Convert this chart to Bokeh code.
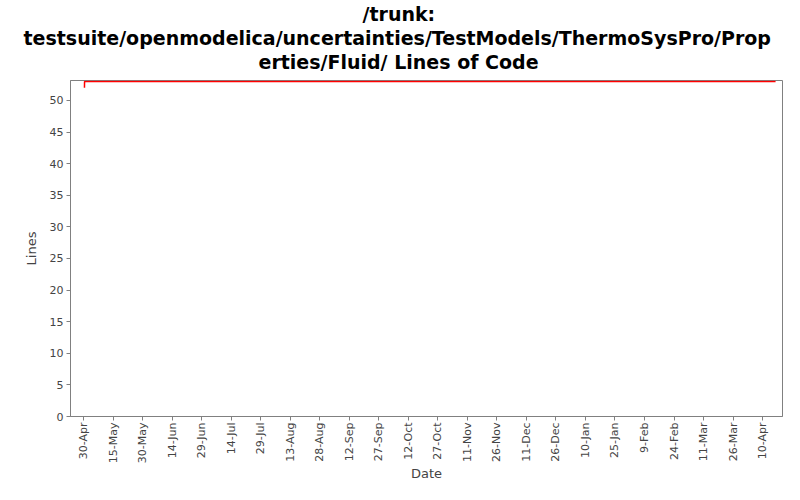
import math
from datetime import datetime, timedelta
from bokeh.plotting import figure
from bokeh.models import FixedTicker, Range1d, Title
from bokeh.embed import file_html
from bokeh.resources import INLINE

# ---- data ----
dates = ["2009-04-30 12:00", "2009-04-30 13:00", "2010-04-16 14:00"]
lines = [52, 53, 53]

tick_labels = ["30-Apr", "15-May", "30-May", "14-Jun", "29-Jun", "14-Jul", "29-Jul",
               "13-Aug", "28-Aug", "12-Sep", "27-Sep", "12-Oct", "27-Oct", "11-Nov",
               "26-Nov", "11-Dec", "26-Dec", "10-Jan", "25-Jan", "9-Feb", "24-Feb",
               "11-Mar", "26-Mar", "10-Apr"]
first_tick = "2009-04-30"
tick_step_days = 15
y_ticks = [0, 5, 10, 15, 20, 25, 30, 35, 40, 45, 50]

title_lines = ["/trunk:",
               "testsuite/openmodelica/uncertainties/TestModels/ThermoSysPro/Prop",
               "erties/Fluid/ Lines of Code"]
# horizontal shift of each title line from the plot frame's left edge (layout only)
title_offsets = [292, -47, 188]

# ---- helpers ----
def ms(d):
    return (d - datetime(1970, 1, 1)).total_seconds() * 1000.0

xs = [datetime.strptime(d, "%Y-%m-%d %H:%M") for d in dates]
t0 = datetime.strptime(first_tick, "%Y-%m-%d")
tick_ms = [ms(t0 + timedelta(days=tick_step_days * i)) for i in range(len(tick_labels))]

day = 86400000.0
x_start = ms(t0) - 6.6 * day
x_end = ms(t0) + 355.1 * day

p = figure(width=784, height=484, x_axis_type="datetime",
           x_range=Range1d(x_start, x_end), y_range=Range1d(0, 53.15),
           output_backend="svg", toolbar_location=None,
           min_border_left=70, min_border_right=2, min_border_top=79, min_border_bottom=65)

p.title = None
# small empty spacer between the title block and the plot frame
p.add_layout(Title(text=" ", text_font_size="5px", standoff=0, text_line_height=0.8), "above")
for line, off in reversed(list(zip(title_lines, title_offsets))):
    t = Title(text=line, align="left", text_font="DejaVu Sans", text_font_style="bold",
              text_font_size="19px", text_color="black", offset=off,
              standoff=0, text_line_height=0.75)
    p.add_layout(t, "above")

p.line([ms(x) for x in xs], lines, line_color="red", line_width=1.5)

p.background_fill_color = "white"
p.border_fill_color = "white"
p.outline_line_color = "#808080"
p.outline_line_width = 1
p.xgrid.visible = False
p.ygrid.visible = False

xa = p.xaxis[0]
xa.ticker = FixedTicker(ticks=tick_ms)
xa.major_label_overrides = {t: l for t, l in zip(tick_ms, tick_labels)}
xa.major_label_orientation = math.pi / 2
xa.minor_tick_line_color = None
xa.axis_label = "Date"

ya = p.yaxis[0]
ya.ticker = FixedTicker(ticks=y_ticks)
ya.minor_tick_line_color = None
ya.axis_label = "Lines"

for ax in (xa, ya):
    ax.axis_line_color = "#808080"
    ax.major_tick_line_color = "#808080"
    ax.major_tick_out = 4
    ax.major_tick_in = 0
    ax.major_label_text_font = "DejaVu Sans"
    ax.major_label_text_font_size = "11px"
    ax.major_label_text_color = "#444444"
    ax.axis_label_text_font = "DejaVu Sans"
    ax.axis_label_text_font_size = "13px"
    ax.axis_label_text_font_style = "normal"
    ax.axis_label_text_color = "#444444"
    ax.major_label_standoff = 2
    ax.axis_label_standoff = 0

ya.major_label_standoff = 3
ya.axis_label_standoff = 8

open("out.html", "w").write(file_html(p, INLINE))
